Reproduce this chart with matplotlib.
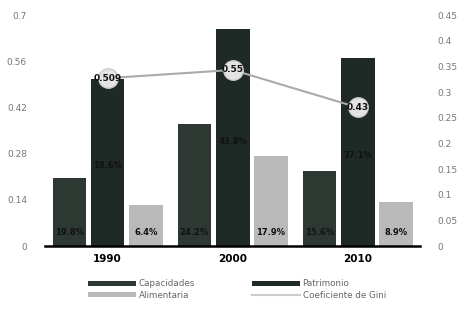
import matplotlib
matplotlib.use("Agg")
import matplotlib.pyplot as plt
import numpy as np
from matplotlib.lines import Line2D

years = ["1990", "2000", "2010"]
capacidades = [0.206, 0.37, 0.227]
patrimonio = [0.506, 0.658, 0.57]
alimentaria = [0.124, 0.273, 0.133]
gini = [0.327, 0.343, 0.27]
gini_labels = ["0.509", "0.55", "0.43"]
cap_labels = ["19.8%", "24.2%", "15.6%"]
pat_labels = ["18.6%", "43.8%", "37.1%"]
ali_labels = ["6.4%", "17.9%", "8.9%"]
left_ticks = [0, 0.14, 0.28, 0.42, 0.56, 0.7]
right_ticks = [0, 0.05, 0.1, 0.15, 0.2, 0.25, 0.3, 0.35, 0.4, 0.45]

fig = plt.figure(figsize=(4.69, 3.13), dpi=100)
ax = fig.add_axes([0.096, 0.214, 0.8, 0.738])
x = np.arange(len(years))
w = 0.27
off = 0.305
c_cap, c_pat, c_ali = "#2e3833", "#1f2925", "#b9b9b9"
ax.bar(x - off, capacidades, w, color=c_cap, label="Capacidades")
ax.bar(x, patrimonio, w, color=c_pat, label="Patrimonio")
ax.bar(x + off, alimentaria, w, color=c_ali, label="Alimentaria")

ax.set_xlim(-0.5, 2.5)
ax.set_ylim(0, 0.7)
ax.set_yticks(left_ticks)
ax.set_yticklabels(["0", "0.14", "0.28", "0.42", "0.56", "0.7"])
ax.set_xticks(x)
ax.set_xticklabels(years, fontweight="bold", fontsize=7.5)
for s in ["top", "left", "right"]:
    ax.spines[s].set_visible(False)
ax.spines["bottom"].set_linewidth(1.8)
ax.tick_params(axis="y", length=0, labelsize=6.5, labelcolor="#777777", pad=13)
ax.tick_params(axis="x", length=0, pad=6)

for i in range(3):
    ax.text(x[i] - off, 0.04, cap_labels[i], ha="center", va="center", fontsize=6, fontweight="bold", color="#111111")
    ax.text(x[i], patrimonio[i] * 0.48, pat_labels[i], ha="center", va="center", fontsize=6, fontweight="bold", color="#111111")
    ax.text(x[i] + off, 0.04, ali_labels[i], ha="center", va="center", fontsize=6, fontweight="bold", color="#111111")

ax2 = ax.twinx()
ax2.set_ylim(0, 0.45)
ax2.set_yticks(right_ticks)
ax2.set_yticklabels(["0", "0.05", "0.1", "0.15", "0.2", "0.25", "0.3", "0.35", "0.4", "0.45"])
ax2.tick_params(axis="y", length=0, labelsize=6.5, labelcolor="#777777", pad=12)
for s in ["top", "left", "right", "bottom"]:
    ax2.spines[s].set_visible(False)
ax2.plot(x, gini, color="#aaaaaa", lw=1.5, marker="o", markersize=14,
         markerfacecolor="#e4e4e4", markeredgecolor="#cccccc", label="Coeficiente de Gini")
for i in range(3):
    ax2.text(x[i], gini[i], gini_labels[i], ha="center", va="center", fontsize=6.5, fontweight="bold", color="#111111")

h1, l1 = ax.get_legend_handles_labels()
gl = Line2D([], [], color="#cccccc", lw=1.5)
handles = [h1[0], h1[2], h1[1], gl]
labels = ["Capacidades", "Alimentaria", "Patrimonio", "Coeficiente de Gini"]
leg = fig.legend(handles, labels, ncol=2, loc="center", bbox_to_anchor=(0.505, 0.075),
                 frameon=False, fontsize=6.3, handlelength=5.5, handleheight=0.5,
                 columnspacing=6.5, labelspacing=0.25, handletextpad=0.3)
for t in leg.get_texts():
    t.set_color("#666666")

fig.savefig("out.png", dpi=100)
